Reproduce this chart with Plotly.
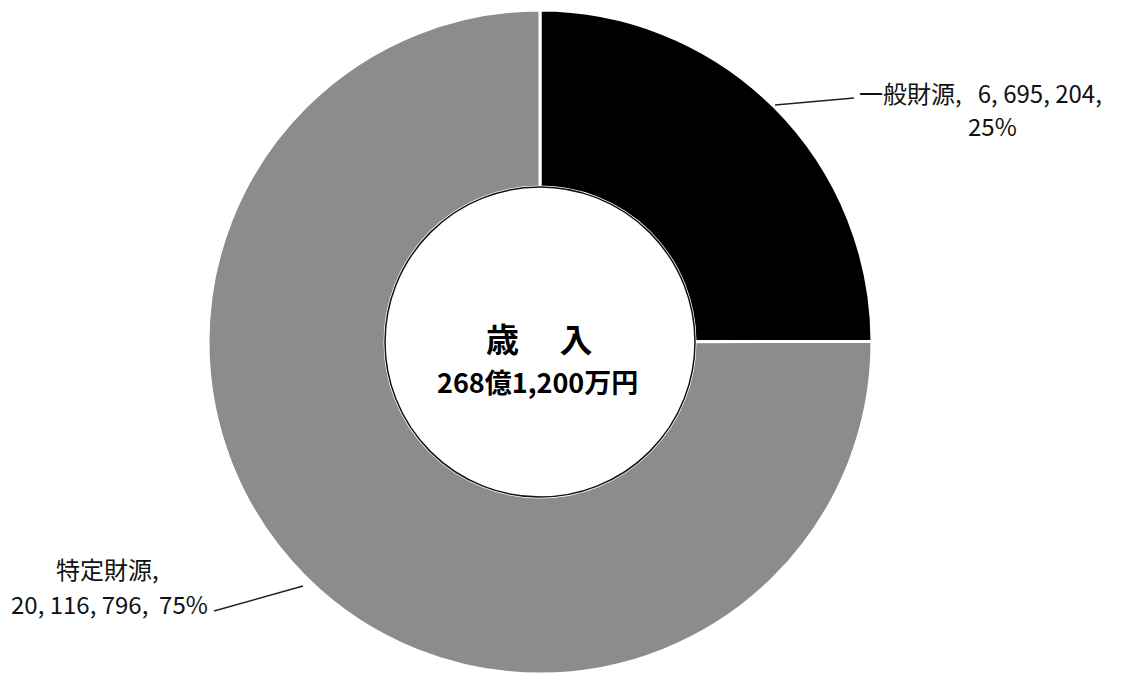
import plotly.graph_objects as go

# ---- data ----
labels = ["一般財源", "特定財源"]
values = [6695204, 20116796]
colors = ["#000000", "#8c8c8c"]
center_title = "歳　 入"
center_total = "268億1,200万円"

W, H = 1126, 674
total = sum(values)
pcts = [round(v / total * 100) for v in values]


def fmt(v):
    return ", ".join(f"{v:,}".split(","))


def px(x):
    return x / W


def py(y):
    return (H - y) / H


# pie geometry (pixels)
cx, cy, R = 540, 342, 332
hole_r = 155

fig = go.Figure(go.Pie(
    labels=labels,
    values=values,
    sort=False,
    direction="clockwise",
    rotation=0,
    hole=hole_r / R,
    textinfo="none",
    hoverinfo="label+value+percent",
    marker=dict(colors=colors, line=dict(color="#ffffff", width=3)),
    domain=dict(x=[px(cx - R), px(cx + R)], y=[py(cy + R), py(cy - R)]),
    showlegend=False,
))

shapes = [
    # hole outline
    dict(type="circle", xref="paper", yref="paper",
         x0=px(cx - hole_r), x1=px(cx + hole_r), y0=py(cy + hole_r), y1=py(cy - hole_r),
         line=dict(color="#111111", width=1.5)),
    # leader lines
    dict(type="line", xref="paper", yref="paper",
         x0=px(775), y0=py(105), x1=px(854), y1=py(98),
         line=dict(color="#222222", width=1.5)),
    dict(type="line", xref="paper", yref="paper",
         x0=px(214), y0=py(611), x1=px(303), y1=py(586),
         line=dict(color="#222222", width=1.5)),
]

lab_font = dict(family="Noto Sans CJK JP", size=24, color="#111111")


def ann(text, x, y, font, xanchor="center"):
    return dict(text=text, x=px(x), y=py(y), xref="paper", yref="paper",
                showarrow=False, xanchor=xanchor, yanchor="middle", font=font)


annotations = [
    ann(f"{labels[0]},   {fmt(values[0])},", 857, 92, lab_font, xanchor="left"),
    ann(f"{pcts[0]}%", 992, 125, lab_font),
    ann(f"{labels[1]},", 107, 568, lab_font),
    ann(f"{fmt(values[1])},  {pcts[1]}%", 210, 603, lab_font, xanchor="right"),
    ann(f"<b>{center_title}</b>", 539, 338,
        dict(family="Noto Sans CJK JP", size=33, color="#000000")),
    ann(f"<b>{center_total}</b>", 537, 381,
        dict(family="Noto Sans CJK JP", size=27, color="#000000")),
]

fig.update_layout(
    width=W, height=H,
    margin=dict(l=0, r=0, t=0, b=0),
    paper_bgcolor="#ffffff",
    plot_bgcolor="#ffffff",
    shapes=shapes,
    annotations=annotations,
)

fig.write_html("out.html")
